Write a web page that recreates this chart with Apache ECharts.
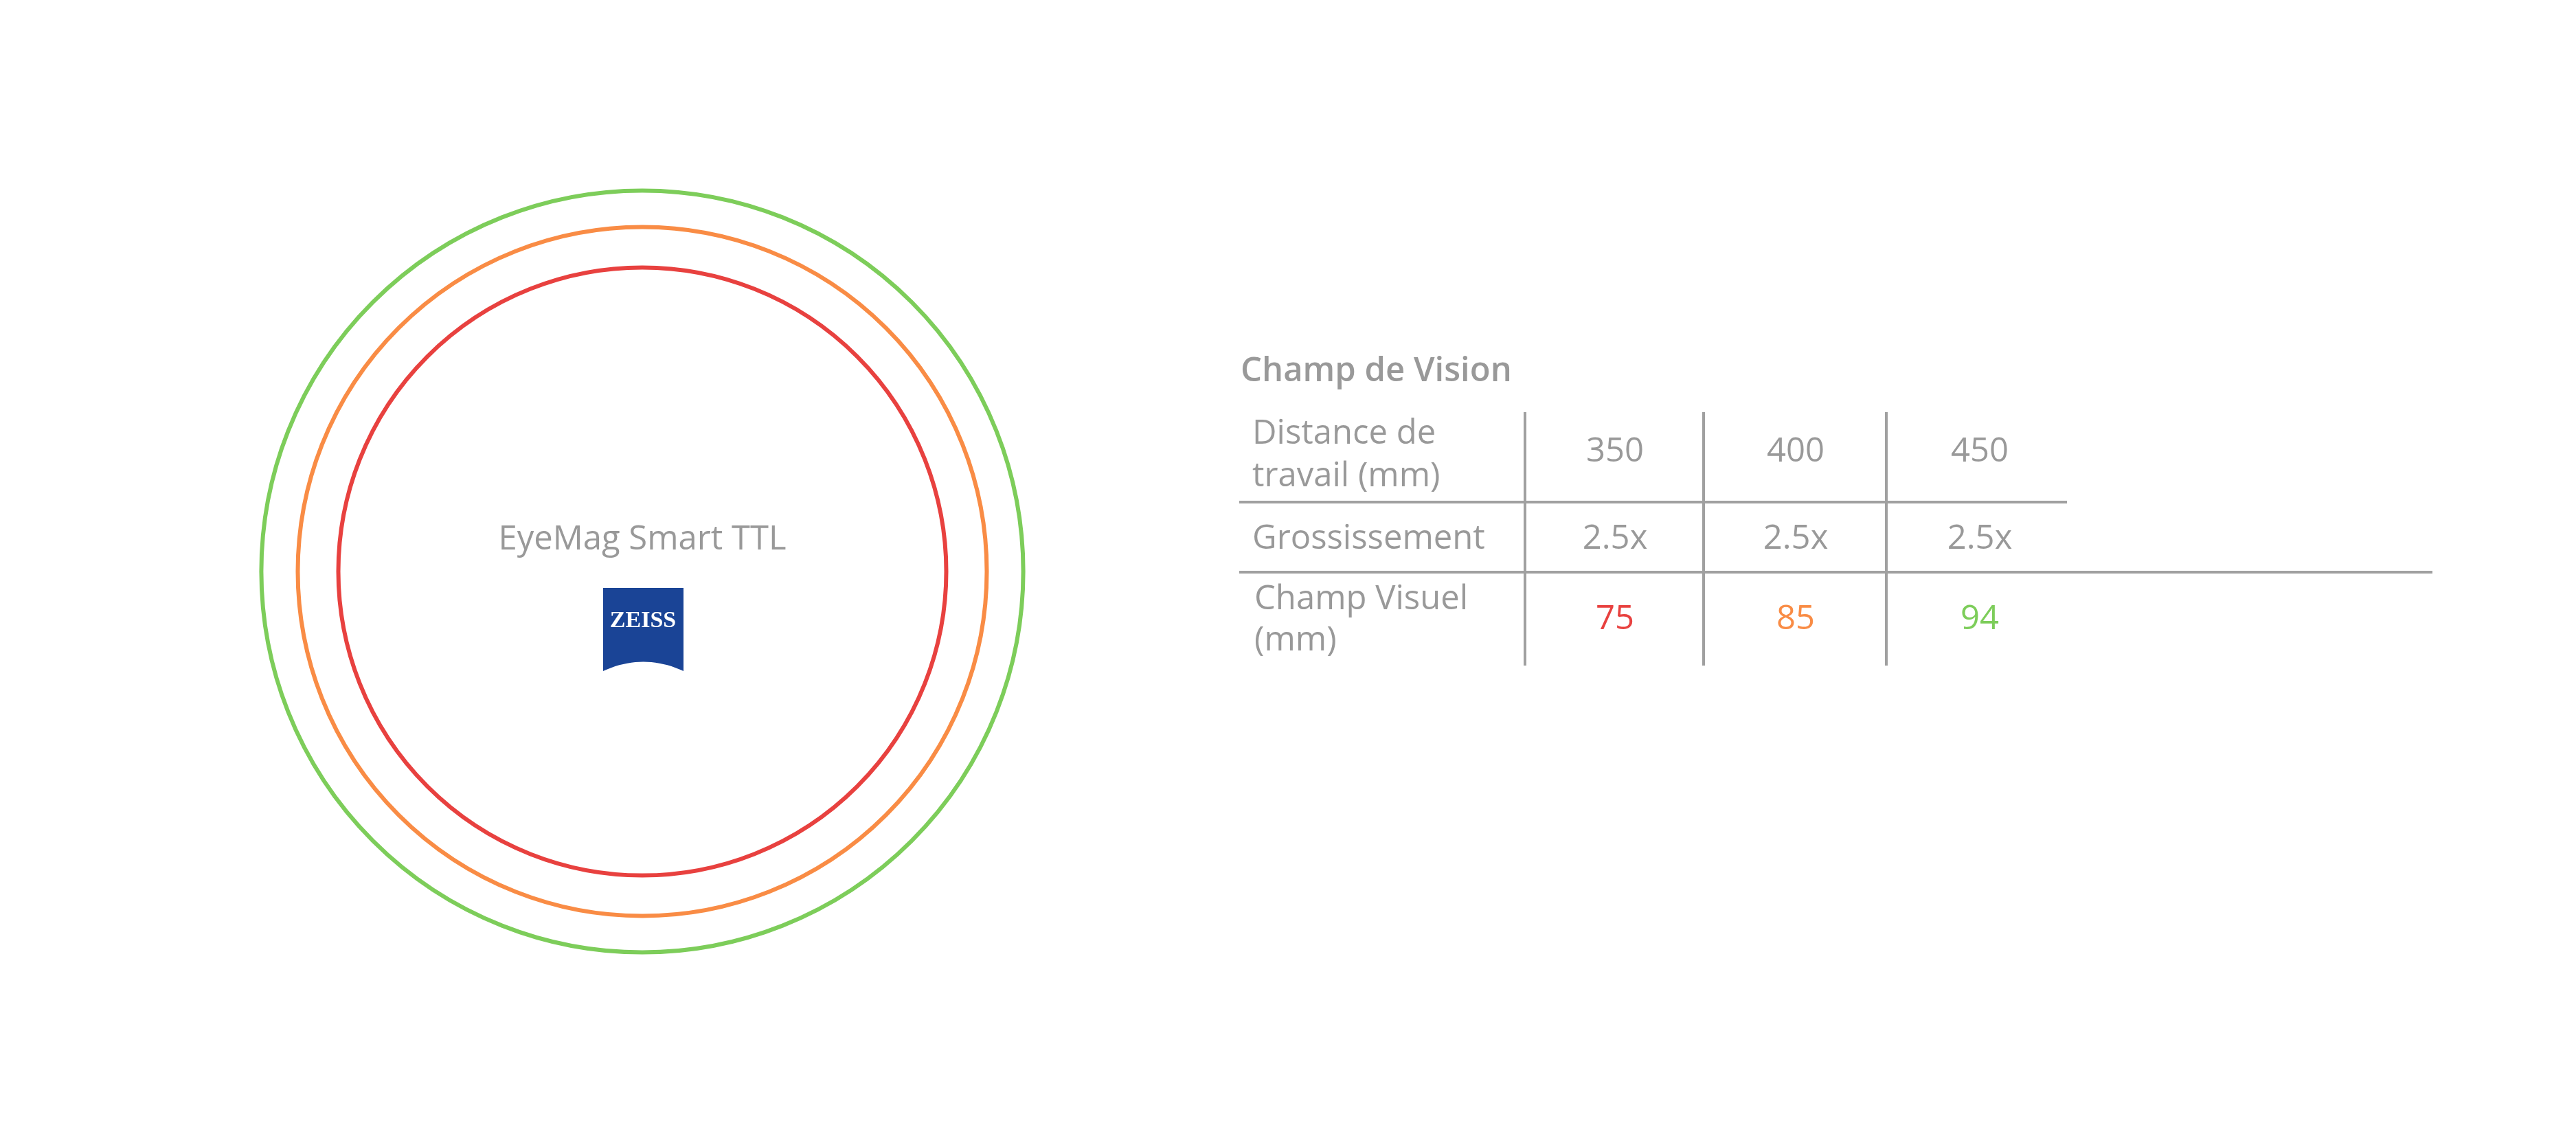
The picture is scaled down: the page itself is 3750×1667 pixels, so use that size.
<!DOCTYPE html>
<html>
<head>
<meta charset="utf-8">
<script src="https://cdn.jsdelivr.net/npm/echarts@6/dist/echarts.min.js"></script>
<style>html,body{margin:0;padding:0;background:#fff}#main{width:3750px;height:1667px}</style>
</head>
<body>
<div id="main"></div>
<script>
// données
var distances = ['350', '400', '450'];
var grossissement = ['2.5x', '2.5x', '2.5x'];
var champVisuel = [75, 85, 94];
var couleurs = ['#e8413f', '#f98c45', '#7dcd5a'];

var chart = echarts.init(document.getElementById('main'));
var gris = '#999999';
var ligne = '#a0a0a0';
var font = '"Open Sans", sans-serif';

var colX = [2351, 2614, 2882];
var g = [];
function txt(x, y, s, opt) {
  g.push({type: 'text', x: x, y: y, style: Object.assign({text: s, fill: gris, font: '49px ' + font, textAlign: 'left', textVerticalAlign: 'middle'}, opt || {})});
}
function seg(x1, y1, x2, y2) {
  g.push({type: 'line', shape: {x1: x1, y1: y1, x2: x2, y2: y2}, style: {stroke: ligne, lineWidth: 4}});
}
txt(1806, 541, 'Champ de Vision', {font: '600 49px ' + font});
txt(1823, 632, 'Distance de');
txt(1823, 694, 'travail (mm)');
txt(1823, 785, 'Grossissement');
txt(1826, 873, 'Champ Visuel');
txt(1826, 933, '(mm)');
distances.forEach(function (d, i) { txt(colX[i], 658, d, {textAlign: 'center'}); });
grossissement.forEach(function (d, i) { txt(colX[i], 785, d, {textAlign: 'center'}); });
champVisuel.forEach(function (d, i) { txt(colX[i], 902, String(d), {textAlign: 'center', fill: couleurs[i]}); });
seg(1804, 731, 3009, 731);
seg(1804, 833, 3541, 833);
[2220, 2480, 2746].forEach(function (x) { seg(x, 600, x, 969); });

// cercle label + logo
txt(935, 786, 'EyeMag Smart TTL', {textAlign: 'center'});
var pts = [[878, 856], [995, 856]];
for (var k = 0; k <= 20; k++) {
  var t = k / 20, x = 995 - 117 * t;
  var y = (1 - t) * (1 - t) * 977 + 2 * t * (1 - t) * 950 + t * t * 977;
  pts.push([x, y]);
}
g.push({type: 'polygon', shape: {points: pts}, style: {fill: '#1a4496'}});
g.push({type: 'text', x: 936, y: 904, style: {text: 'ZEISS', fill: '#fff', font: 'bold 34px "Liberation Serif", serif', textAlign: 'center', textVerticalAlign: 'middle'}});

chart.setOption({
  animation: false,
  grid: {left: 345, top: 242, width: 1180, height: 1180},
  xAxis: {type: 'value', min: -100, max: 100, show: false},
  yAxis: {type: 'value', min: -100, max: 100, show: false},
  series: [{
    type: 'custom',
    data: champVisuel.map(function (v, i) { return [0, 0, v, i]; }),
    renderItem: function (params, api) {
      var c = api.coord([api.value(0), api.value(1)]);
      var r = api.size([api.value(2), 0])[0];
      return {type: 'circle', shape: {cx: c[0], cy: c[1], r: r},
        style: {fill: 'none', stroke: couleurs[api.value(3)], lineWidth: 6}};
    }
  }],
  graphic: g
});
</script>
</body>
</html>
